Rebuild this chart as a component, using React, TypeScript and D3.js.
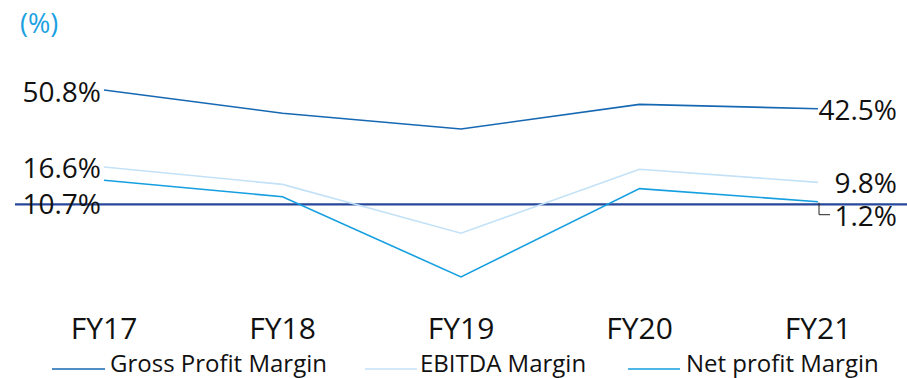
import React from "react";
import * as d3 from "d3";

const categories = ["FY17", "FY18", "FY19", "FY20", "FY21"];
const grossMargin = [50.8, 40.5, 33.5, 44.4, 42.5];
const ebitdaMargin = [16.6, 8.9, -12.8, 15.6, 9.8];
const netMargin = [10.7, 3.4, -32.2, 7.0, 1.2];
const seriesNames = ["Gross Profit Margin", "EBITDA Margin", "Net profit Margin"];

const W = 907;
const H = 378;
const FONT = "'Open Sans', sans-serif";
const COLORS = ["#1768b3", "#c4e2f7", "#159fe0"];

export default function App() {
  const x = d3.scalePoint<string>().domain(categories).range([104, 818]);
  const y = d3.scaleLinear().domain([0, 50.8]).range([204.4, 90]);

  const series = [grossMargin, ebitdaMargin, netMargin];
  const line = d3
    .line<number>()
    .x((_, i) => x(categories[i]) as number)
    .y((d) => y(d));

  const first = (arr: number[]) => ({ px: x(categories[0]) as number, py: y(arr[0]) });
  const last = (arr: number[]) => ({
    px: x(categories[categories.length - 1]) as number,
    py: y(arr[arr.length - 1]),
  });
  const fmt = (v: number) => `${v.toFixed(1)}%`;

  const g0 = first(grossMargin);
  const e0 = first(ebitdaMargin);
  const n0 = first(netMargin);
  const gN = last(grossMargin);
  const eN = last(ebitdaMargin);
  const nN = last(netMargin);

  const legendItems = [
    { x1: 52, x2: 105, tx: 110 },
    { x1: 365, x2: 417, tx: 420 },
    { x1: 628, x2: 680, tx: 686 },
  ];

  return (
    <svg
      width={W}
      height={H}
      style={{ position: "absolute", left: 0, top: 0, background: "#fff" }}
      fontFamily={FONT}
    >
      <text x={20} y={33} fontSize={27} fill="#1ba1e2">
        (%)
      </text>

      {/* zero reference */}
      <line x1={15} x2={W} y1={y(0)} y2={y(0)} stroke="#26479a" strokeWidth={2.2} />

      {series.map((s, i) => (
        <path key={i} d={line(s) || ""} fill="none" stroke={COLORS[i]} strokeWidth={1.6} />
      ))}

      {/* first-year labels */}
      <g fontSize={28} fill="#111" textAnchor="end">
        <text x={g0.px - 3} y={g0.py + 12}>{fmt(grossMargin[0])}</text>
        <text x={e0.px - 3} y={e0.py + 11}>{fmt(ebitdaMargin[0])}</text>
        <text x={n0.px - 3} y={n0.py + 34}>{fmt(netMargin[0])}</text>
      </g>

      {/* last-year labels */}
      <g fontSize={28} fill="#111" textAnchor="end">
        <text x={897} y={gN.py + 11}>{fmt(grossMargin[4])}</text>
        <text x={897} y={eN.py + 11}>{fmt(ebitdaMargin[4])}</text>
        <text x={897} y={nN.py + 24}>{fmt(netMargin[4])}</text>
      </g>
      <path
        d={`M${nN.px + 1},${nN.py + 1}V${nN.py + 13}H${nN.px + 12}`}
        fill="none"
        stroke="#222"
        strokeWidth={1}
      />

      {/* category axis labels */}
      <g fontSize={30} fill="#111" textAnchor="middle">
        {categories.map((c) => (
          <text key={c} x={x(c) as number} y={339}>
            {c}
          </text>
        ))}
      </g>

      {/* legend */}
      <g fontSize={24} fill="#111">
        {legendItems.map((it, i) => (
          <g key={i}>
            <line x1={it.x1} x2={it.x2} y1={369} y2={369} stroke={COLORS[i]} strokeWidth={1.6} />
            <text x={it.tx} y={372}>{seriesNames[i]}</text>
          </g>
        ))}
      </g>
    </svg>
  );
}
